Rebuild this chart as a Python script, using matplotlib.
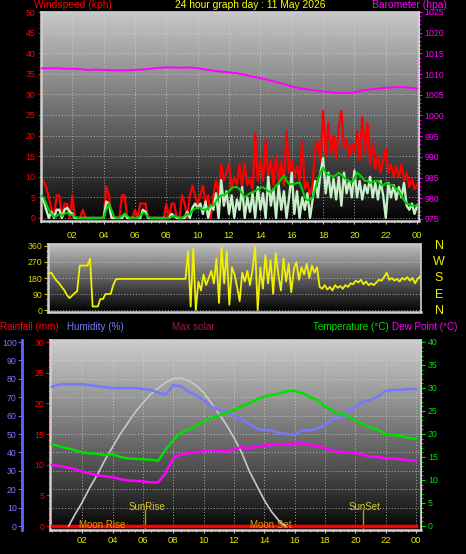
import numpy as np
import matplotlib.pyplot as plt
from matplotlib.ticker import MultipleLocator

plt.rcParams['font.family'] = ['Liberation Sans', 'DejaVu Sans']

# ---- data ----------------------------------------------------------------
# wind, 10 minute samples from 00:00 to 24:00 (kph)
wind_gust = [
    9.2, 9.0, 7.5, 5.0, 2.0, 0.0,      # 00
    5.5, 5.5, 0.0, 3.5, 3.5, 0.0,      # 01
    5.5, 0.0, 0.0, 0.0, 2.0, 0.0,      # 02
    0.0, 0.0, 0.0, 0.0, 0.0, 0.0,      # 03
    0.0, 7.7, 5.5, 0.0, 0.0, 0.0,      # 04
    0.0, 5.5, 5.5, 0.0, 0.0, 0.0,      # 05
    2.0, 0.0, 3.5, 3.5, 3.5, 0.0,      # 06
    0.0, 0.0, 0.0, 0.0, 0.0, 0.0,      # 07
    3.5, 0.0, 3.5, 3.5, 0.0, 0.0,      # 08
    5.5, 3.5, 0.0, 5.5, 7.8, 5.5,      # 09
    3.5, 5.5, 7.8, 3.5, 5.5, 0.0,      # 10
    5.5, 9.2, 5.5, 13.0, 9.2, 11.0,    # 11
    13.0, 7.0, 10.0, 8.0, 13.0, 7.5,   # 12
    13.3, 8.0, 9.5, 7.0, 20.3, 9.0,    # 13
    14.5, 9.0, 18.7, 10.0, 14.0, 8.0,  # 14
    15.0, 9.0, 13.5, 8.0, 21.0, 11.0,  # 15
    14.0, 10.0, 12.5, 9.0, 18.5, 7.0,  # 16
    8.8, 5.5, 8.0, 17.0, 18.5, 14.0,   # 17
    26.0, 15.0, 23.0, 16.0, 20.0, 14.5,  # 18
    22.0, 26.0, 17.0, 19.0, 15.0, 18.0,  # 19
    16.0, 21.0, 14.0, 24.5, 16.0, 23.0,  # 20
    13.0, 18.4, 12.0, 15.0, 11.0, 14.0,  # 21
    16.8, 11.0, 13.0, 10.0, 12.5, 10.0,  # 22
    13.0, 9.0, 11.0, 7.5, 9.5, 7.0,    # 23
    8.0,
]
wind_avg = [
    5.1, 4.4, 2.0, 0.0, 1.5, 0.0,
    2.0, 2.0, 0.0, 2.0, 2.5, 1.5,
    1.0, 0.0, 0.0, 0.0, 0.0, 0.0,
    0.0, 0.0, 0.0, 0.0, 0.0, 0.0,
    0.0, 4.0, 3.5, 0.0, 0.0, 0.0,
    0.0, 0.0, 1.0, 0.0, 0.0, 0.0,
    0.0, 0.0, 0.0, 2.0, 1.5, 0.0,
    0.0, 0.0, 0.0, 0.0, 0.0, 0.0,
    0.0, 0.0, 1.0, 0.5, 0.0, 0.0,
    0.0, 0.0, 1.5, 0.0, 2.5, 3.5,
    2.5, 3.5, 1.0, 4.0, 0.0, 3.0,
    2.0, 6.0, 0.0, 9.2, 3.0, 6.5,
    1.0, 5.5, 0.0, 4.5, 2.0, 7.5,
    0.0, 5.0, 1.5, 6.0, 0.0, 7.5,
    2.0, 6.0, 0.0, 10.0, 3.0, 7.0,
    0.0, 8.0, 2.0, 6.5, 0.0, 5.0,
    11.0, 1.0, 6.5, 0.0, 5.0, 2.0,
    6.0, 0.0, 4.5, 9.0, 5.0, 11.0,
    14.5, 6.0, 11.0, 5.0, 9.5, 4.5,
    10.0, 3.0, 11.0, 6.0, 9.0, 5.0,
    11.5, 5.0, 9.0, 4.5, 8.0, 6.0,
    10.0, 5.0, 8.5, 4.5, 9.0, 5.5,
    0.0, 8.5, 5.0, 8.0, 4.5, 7.5,
    5.0, 8.5, 3.0, 2.0, 3.5, 1.0,
    3.0,
]
wind_smooth = [
    5.5, 5.0, 3.5, 2.0, 1.0, 0.3,
    0.5, 1.0, 0.5, 1.0, 1.3, 0.8,
    0.8, 0.3, 0.0, 0.0, 0.0, 0.0,
    0.0, 0.0, 0.0, 0.0, 0.0, 0.0,
    0.0, 2.0, 3.5, 2.0, 0.3, 0.0,
    0.0, 0.5, 1.0, 0.5, 0.0, 0.0,
    0.0, 0.0, 0.5, 1.3, 1.0, 0.2,
    0.0, 0.0, 0.0, 0.0, 0.0, 0.0,
    0.0, 0.0, 0.3, 0.5, 0.3, 0.0,
    0.0, 0.5, 1.0, 0.8, 1.8, 2.3,
    2.5, 2.5, 2.0, 2.0, 2.3, 3.0,
    3.0, 4.0, 5.0, 5.5, 5.5, 6.0,
    6.5, 7.3, 7.5, 7.5, 7.0, 6.0,
    5.0, 5.5, 6.0, 6.3, 6.5, 7.0,
    7.3, 7.5, 7.0, 6.5, 6.3, 7.0,
    7.8, 8.5, 9.5, 10.3, 9.0, 8.2,
    8.2, 8.3, 8.5, 8.6, 7.0, 5.0,
    4.3, 4.5, 5.0, 7.0, 9.3, 11.0,
    12.2, 11.0, 10.5, 10.3, 10.0, 10.5,
    11.0, 10.5, 9.8, 9.3, 9.0, 8.7,
    9.5, 11.0, 10.5, 9.8, 9.0, 9.0,
    8.5, 8.8, 9.0, 9.0, 8.2, 7.8,
    8.5, 8.3, 8.0, 7.8, 7.0, 6.5,
    5.5, 4.3, 3.5, 3.3, 3.0, 3.0,
    3.0,
]
# wind direction, 10 minute samples (degrees)
wind_dir = [
    205, 210, 185, 165, 150, 130,
    112, 85, 67, 80, 95, 105,
    250, 250, 250, 250, 288, 20,
    20, 20, 62, 62, 90, 90,
    90, 140, 172, 175, 175, 175,
    175, 175, 175, 175, 175, 175,
    175, 175, 175, 175, 175, 175,
    175, 175, 175, 175, 175, 175,
    175, 175, 175, 175, 175, 175,
    330, 20, 345, 0, 160, 110,
    200, 140, 180, 220, 150, 290,
    40, 350, 150, 330, 30, 240,
    200, 130, 50, 210, 160, 220,
    140, 230, 355, 0, 240, 120,
    310, 150, 280, 90, 320, 200,
    110, 290, 160, 260, 100, 230,
    270, 170, 240, 200, 260, 180,
    250, 210, 240, 130, 120, 140,
    115, 130, 110, 140, 125, 135,
    120, 140, 130, 150, 145, 165,
    155, 170, 145, 160, 140, 150,
    140, 155, 170, 165, 185, 210,
    170, 180, 165, 175, 160, 180,
    170, 185, 165, 180, 150, 175,
    190,
]

# 30 minute samples from 00:00 to 24:00
barometer = [
    1011.4, 1011.4, 1011.4, 1011.3, 1011.3, 1011.2, 1011.0, 1011.1,
    1011.0, 1010.9, 1010.9, 1010.9, 1011.0, 1011.1, 1011.3, 1011.5,
    1011.6, 1011.6, 1011.5, 1011.6, 1011.4, 1011.1, 1010.8, 1010.6,
    1010.4, 1010.2, 1009.8, 1009.4, 1009.0, 1008.6, 1008.1, 1007.6,
    1007.0, 1006.6, 1006.3, 1006.1, 1005.8, 1005.6, 1005.4, 1005.4,
    1005.6, 1006.0, 1006.3, 1006.5, 1006.7, 1006.8, 1006.9, 1006.7,
    1006.5,
]
humidity = [
    75.7, 77.0, 77.0, 77.0, 77.0, 76.5, 76.0, 75.5,
    75.0, 75.0, 75.0, 75.0, 74.5, 74.0, 72.5, 71.5,
    76.5, 76.0, 73.0, 71.0, 68.5, 65.0, 63.0, 62.5,
    60.0, 58.0, 55.5, 53.0, 52.0, 52.0, 50.5, 50.0,
    49.6, 52.0, 52.0, 53.0, 55.0, 58.0, 59.0, 62.0,
    65.0, 67.5, 68.5, 70.5, 73.5, 74.0, 74.0, 74.5,
    74.5,
]
temperature = [
    17.8, 17.3, 16.9, 16.5, 16.0, 15.8, 15.7, 15.4,
    15.6, 15.0, 14.7, 14.6, 14.5, 14.4, 14.2, 16.6,
    18.7, 20.2, 21.0, 21.7, 22.8, 23.4, 24.0, 24.6,
    25.2, 26.0, 26.6, 27.5, 28.1, 28.5, 28.8, 29.3,
    29.4, 28.9, 28.0, 27.4, 26.0, 24.9, 24.4, 24.0,
    23.0, 22.1, 21.4, 20.9, 20.0, 19.8, 19.6, 19.2,
    18.9,
]
dew_point = [
    13.3, 13.0, 12.7, 12.4, 11.8, 11.4, 11.0, 10.8,
    10.6, 10.2, 9.9, 9.8, 9.7, 9.5, 9.5, 11.5,
    14.8, 15.6, 15.8, 16.0, 16.3, 16.4, 16.3, 16.2,
    16.6, 17.2, 16.9, 17.3, 17.5, 17.6, 17.8, 17.8,
    17.9, 18.0, 17.6, 17.4, 16.9, 16.4, 16.1, 16.0,
    15.8, 15.5, 15.1, 15.0, 14.7, 14.7, 14.5, 14.3,
    14.2,
]

solar_hours = [1.1, 1.5, 2, 2.5, 3, 3.5, 4, 4.5, 5, 5.5, 6, 6.5, 7, 7.5, 8,
               8.5, 9, 9.5, 10, 10.5, 11, 11.5, 12, 12.5, 13, 13.5, 14,
               14.5, 15, 15.4]
max_solar = [0, 6, 13, 21, 28, 36, 43, 50, 56, 62, 67, 71.5, 75, 78, 80,
             80.5, 79, 76.5, 72.5, 67, 61, 55, 48, 40, 30, 22, 14, 7.5,
             2.5, 0]

rain_hours = [0, 24]
rainfall = [0.0, 0.0]

sunrise, sunset = 6.13, 20.5
hour_ticks = [2, 4, 6, 8, 10, 12, 14, 16, 18, 20, 22, 24]
hour_labels = ['02', '04', '06', '08', '10', '12', '14', '16', '18', '20', '22', '00']

t10 = np.arange(len(wind_gust)) / 6.0
t30 = np.arange(len(barometer)) / 2.0

# ---- figure --------------------------------------------------------------
W, H = 466, 554
fig = plt.figure(figsize=(W / 100, H / 100), dpi=100, facecolor='black')


def px_axes(x0, y0, x1, y1):
    return fig.add_axes([x0 / W, 1 - y1 / H, (x1 - x0) / W, (y1 - y0) / H])


def shade(ax, top=0.78, power=0.9):
    grad = np.linspace(1, 0, 256).reshape(-1, 1) ** power * top
    ax.imshow(grad, cmap='gray', vmin=0, vmax=1, extent=[0, 1, 0, 1],
              transform=ax.transAxes, aspect='auto', zorder=0)


def frame(ax, color='#d0d0d0'):
    for s in ax.spines.values():
        s.set_color(color)
        s.set_linewidth(1.2)
    ax.spines['left'].set_linewidth(1.8)
    ax.spines['bottom'].set_linewidth(1.8)


GRID = dict(color='#d8d8d8', linestyle=(0, (1, 2)), linewidth=0.7, alpha=0.7)
YEL = '#e6e600'
FS = 6.3
TFS = 7.4

# ---- top panel: wind + barometer ----------------------------------------
ax1 = px_axes(41, 12, 419, 221)
ax1.set_facecolor('black')
shade(ax1)
frame(ax1)
ax1.plot(t10, wind_gust, color='#ff0000', lw=1.6, zorder=2)
ax1.plot(t10, wind_avg, color='#c8f0c8', lw=1.7, zorder=3)
ax1.plot(t10, wind_smooth, color='#00d000', lw=1.5, zorder=4)
ax1.set_xlim(0, 24.12)
ax1.set_ylim(-0.73, 50)
ax1.yaxis.set_major_locator(MultipleLocator(5))
ax1.yaxis.set_minor_locator(MultipleLocator(1))
ax1.set_xticks(hour_ticks)
ax1.set_xticklabels(hour_labels)
ax1.xaxis.set_minor_locator(MultipleLocator(0.5))
ax1.tick_params(axis='y', which='both', colors='#ff0000', labelsize=FS,
                length=2.5, pad=1.5)
ax1.tick_params(axis='y', which='minor', length=1.5)
ax1.tick_params(axis='x', which='both', colors='#c0c0c0', labelcolor=YEL,
                labelsize=FS + 0.5, length=2, pad=5)
ax1.tick_params(axis='x', which='minor', length=1.5)
ax1.grid(True, **GRID)

ax1b = ax1.twinx()
ax1b.plot(t30, barometer, color='#ff00ff', lw=1.4)
ax1b.set_ylim(974.5, 1025)
ax1b.yaxis.set_major_locator(MultipleLocator(5))
ax1b.yaxis.set_minor_locator(MultipleLocator(1))
ax1b.tick_params(axis='y', which='both', colors='#ff00ff', labelsize=FS,
                 length=2.5, pad=1.5)
ax1b.tick_params(axis='y', which='minor', length=1.5)
for s in ax1b.spines.values():
    s.set_visible(False)
ax1b.spines['right'].set_visible(True)
ax1b.spines['right'].set_color('#e8c8e8')

fig.text(34 / W, 1 - 5 / H, 'Windspeed (kph)', color='#ff0000', fontsize=TFS,
         va='center', ha='left')
fig.text(250 / W, 1 - 5 / H, '24 hour graph day : 11 May 2026', color='#ffff00',
         fontsize=TFS, va='center', ha='center')
fig.text(372 / W, 1 - 5 / H, 'Barometer (hpa)', color='#ff00ff', fontsize=TFS,
         va='center', ha='left')

# ---- middle panel: wind direction ---------------------------------------
ax2 = px_axes(48, 244, 421, 312)
ax2.set_facecolor('black')
shade(ax2, top=0.75, power=1.0)
frame(ax2)
ax2.plot(t10, wind_dir, color='#f0f000', lw=1.3, zorder=3)
ax2.set_xlim(-0.05, 24.05)
ax2.set_ylim(-11, 371)
ax2.set_yticks([0, 90, 180, 270, 360])
ax2.yaxis.set_minor_locator(MultipleLocator(30))
ax2.set_xticks(hour_ticks)
ax2.tick_params(axis='x', which='both', bottom=False, labelbottom=False)
ax2.tick_params(axis='y', which='both', colors='#c8c800', labelcolor='#d8d800',
                labelsize=FS, length=3, pad=1)
ax2.tick_params(axis='y', which='minor', length=1.5)
ax2.grid(True, axis='y', **GRID)

for lab, y in zip(['N', 'W', 'S', 'E', 'N'], [246, 262, 278, 295, 311]):
    fig.text(439 / W, 1 - y / H, lab, color='#f0f000', fontsize=9,
             ha='center', va='center')

# ---- bottom panel: temperature, humidity, dew point ---------------------
ax3 = px_axes(50, 340, 421, 530)
ax3.set_facecolor('black')
shade(ax3, top=0.8, power=0.85)
frame(ax3)
ax3.plot(rain_hours, rainfall, color='#ff0000', lw=2.5, zorder=5)
ax3.set_xlim(-0.13, 24.33)
ax3.set_ylim(-0.652, 30.33)
ax3.yaxis.set_major_locator(MultipleLocator(5))
ax3.yaxis.set_minor_locator(MultipleLocator(1))
ax3.set_xticks(hour_ticks)
ax3.set_xticklabels(hour_labels)
ax3.xaxis.set_minor_locator(MultipleLocator(0.5))
ax3.tick_params(axis='y', which='both', colors='#ff0000', labelsize=FS,
                length=3, pad=1)
ax3.tick_params(axis='y', which='minor', length=1.5)
ax3.tick_params(axis='x', which='both', colors='#c0c0c0', labelcolor=YEL,
                labelsize=FS + 0.5, length=2, pad=2.5)
ax3.tick_params(axis='x', which='minor', length=1.5)
ax3.grid(True, axis='x', **GRID)
for yv in np.arange(3, 31, 3):
    ax3.axhline(yv, zorder=1, **GRID)

# sun / moon markers
ax3.plot([sunrise, sunrise], [-0.65, 2.6], color='#a8a000', lw=1, zorder=4)
ax3.plot([sunset, sunset], [-0.65, 2.6], color='#a8a000', lw=1, zorder=4)
ax3.text(6.26, 3.1, 'SunRise', color='#d8c830', fontsize=7, ha='center',
         va='center', zorder=6)
ax3.text(20.6, 3.1, 'SunSet', color='#d8c830', fontsize=7, ha='center',
         va='center', zorder=6)
ax3.text(3.3, 0.1, 'Moon Rise', color='#e0a000', fontsize=7, ha='center',
         va='center', zorder=6)
ax3.text(14.45, 0.1, 'Moon Set', color='#e0a000', fontsize=7, ha='center',
         va='center', zorder=6)

ax3h = ax3.twinx()
ax3h.yaxis.tick_left()
ax3h.spines['left'].set_position(('outward', 20))
for s in ax3h.spines.values():
    s.set_visible(False)
ax3h.spines['left'].set_visible(True)
ax3h.spines['left'].set_color('#6464ff')
ax3h.spines['left'].set_linewidth(2)
ax3h.plot(solar_hours, max_solar, color='#c8c8c8', lw=1.2, zorder=2)
ax3h.plot(t30, humidity, color='#7878ff', lw=1.8, zorder=3)
ax3h.set_ylim(-2.17, 101.1)
ax3h.yaxis.set_major_locator(MultipleLocator(10))
ax3h.yaxis.set_minor_locator(MultipleLocator(5))
ax3h.tick_params(axis='y', which='both', colors='#6464ff', labelcolor='#7878ff',
                 labelsize=FS, length=3, pad=1)
ax3h.tick_params(axis='y', which='minor', length=1.5)

ax3t = ax3.twinx()
for s in ax3t.spines.values():
    s.set_visible(False)
ax3t.spines['right'].set_visible(True)
ax3t.spines['right'].set_color('#d0d0d0')
ax3t.plot(t30, temperature, color='#00e000', lw=1.8, zorder=3)
ax3t.plot(t30, dew_point, color='#ff00ff', lw=1.8, zorder=3)
ax3t.set_ylim(-0.87, 40.43)
ax3t.yaxis.set_major_locator(MultipleLocator(5))
ax3t.yaxis.set_minor_locator(MultipleLocator(1))
ax3t.tick_params(axis='y', which='both', colors='#00e000', labelsize=FS,
                 length=3, pad=2)
ax3t.tick_params(axis='y', which='minor', length=1.5)

for txt, x, col in [('Rainfall (mm)', 0, '#ff0000'),
                    ('Humidity (%)', 67, '#7878ff'),
                    ('Max solar', 172, '#a02040'),
                    ('Temperature (°C)', 313, '#00e000'),
                    ('Dew Point (°C)', 392, '#ff00ff')]:
    fig.text(x / W, 1 - 327 / H, txt, color=col, fontsize=7.1, ha='left',
             va='center')

fig.savefig('out.png', dpi=100, facecolor='black')
